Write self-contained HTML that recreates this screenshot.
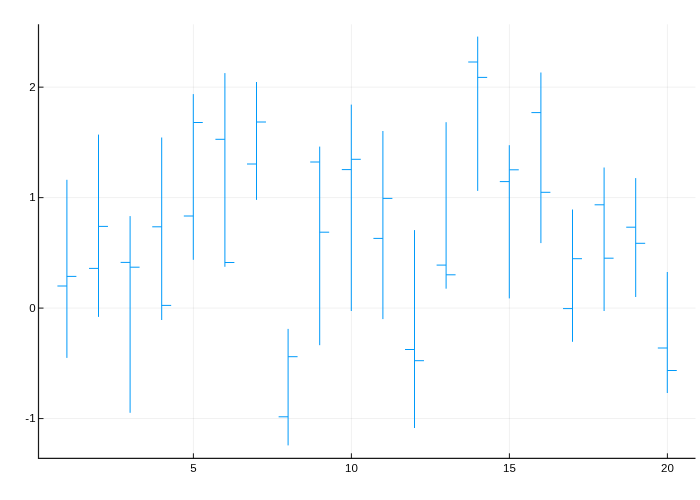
<!DOCTYPE html>
<html><head><meta charset="utf-8"><style>
html,body{margin:0;padding:0;background:#fff;}
svg{display:block;}
text{will-change:transform;}
</style></head><body>
<svg width="700" height="500" viewBox="0 0 700 500">
<rect width="700" height="500" fill="#fff"/>
<path d="M193.40 24.3V458.3M351.40 24.3V458.3M509.40 24.3V458.3M667.40 24.3V458.3M38.5 418.57H695.5M38.5 308.10H695.5M38.5 197.63H695.5M38.5 87.16H695.5" stroke="#000" stroke-opacity="0.1" stroke-width="0.6" fill="none"/>
<path d="M57.42 286H66.90M66.90 357.9V179.8M66.90 276.4H76.38M89.02 268.4H98.50M98.50 316.9V134.6M98.50 226.4H107.98M120.62 262.4H130.10M130.10 412.8V216.1M130.10 267.2H139.58M152.22 226.8H161.70M161.70 320V137.5M161.70 305.4H171.18M183.82 216H193.30M193.30 259.8V94.1M193.30 122.5H202.78M215.42 139.3H224.90M224.90 266.8V73.1M224.90 262.5H234.38M247.02 164H256.50M256.50 199.9V82M256.50 122H265.98M278.62 416.8H288.10M288.10 445.4V328.9M288.10 356.7H297.58M310.22 162H319.70M319.70 345.2V146.6M319.70 232.2H329.18M341.82 169.6H351.30M351.30 311V104.6M351.30 159.3H360.78M373.42 238.4H382.90M382.90 319.1V131M382.90 198.4H392.38M405.02 349.5H414.50M414.50 428V230.1M414.50 360.7H423.98M436.62 265.1H446.10M446.10 288.7V122.2M446.10 274.8H455.58M468.22 62H477.70M477.70 190.9V36.6M477.70 77.4H487.18M499.82 181.6H509.30M509.30 298.4V145.2M509.30 169.8H518.78M531.42 112.6H540.90M540.90 243.1V72.5M540.90 192.3H550.38M563.02 308.6H572.50M572.50 341.8V209.5M572.50 258.7H581.98M594.62 204.8H604.10M604.10 311V167.5M604.10 258.2H613.58M626.22 227.2H635.70M635.70 297V178.1M635.70 243.3H645.18M657.82 348.0H667.30M667.30 393V272M667.30 370.5H676.78" stroke="#009afa" stroke-width="1" fill="none"/>
<path d="M38.5 24.3V458.3H695.5" stroke="#000" stroke-opacity="0.9" stroke-width="1.2" fill="none"/>
<path d="M193.40 458.3V453.3M351.40 458.3V453.3M509.40 458.3V453.3M667.40 458.3V453.3M38.5 418.57H43.5M38.5 308.10H43.5M38.5 197.63H43.5M38.5 87.16H43.5" stroke="#000" stroke-opacity="0.9" stroke-width="1" fill="none"/>
<g font-family="'Liberation Sans', sans-serif" font-size="11.5" fill="#000"><text x="193.40" y="472" text-anchor="middle">5</text><text x="351.40" y="472" text-anchor="middle">10</text><text x="509.40" y="472" text-anchor="middle">15</text><text x="667.40" y="472" text-anchor="middle">20</text><text x="35.6" y="422" text-anchor="end">-1</text><text x="35.6" y="312" text-anchor="end">0</text><text x="35.6" y="201" text-anchor="end">1</text><text x="35.6" y="91" text-anchor="end">2</text></g>
</svg>
</body></html>
